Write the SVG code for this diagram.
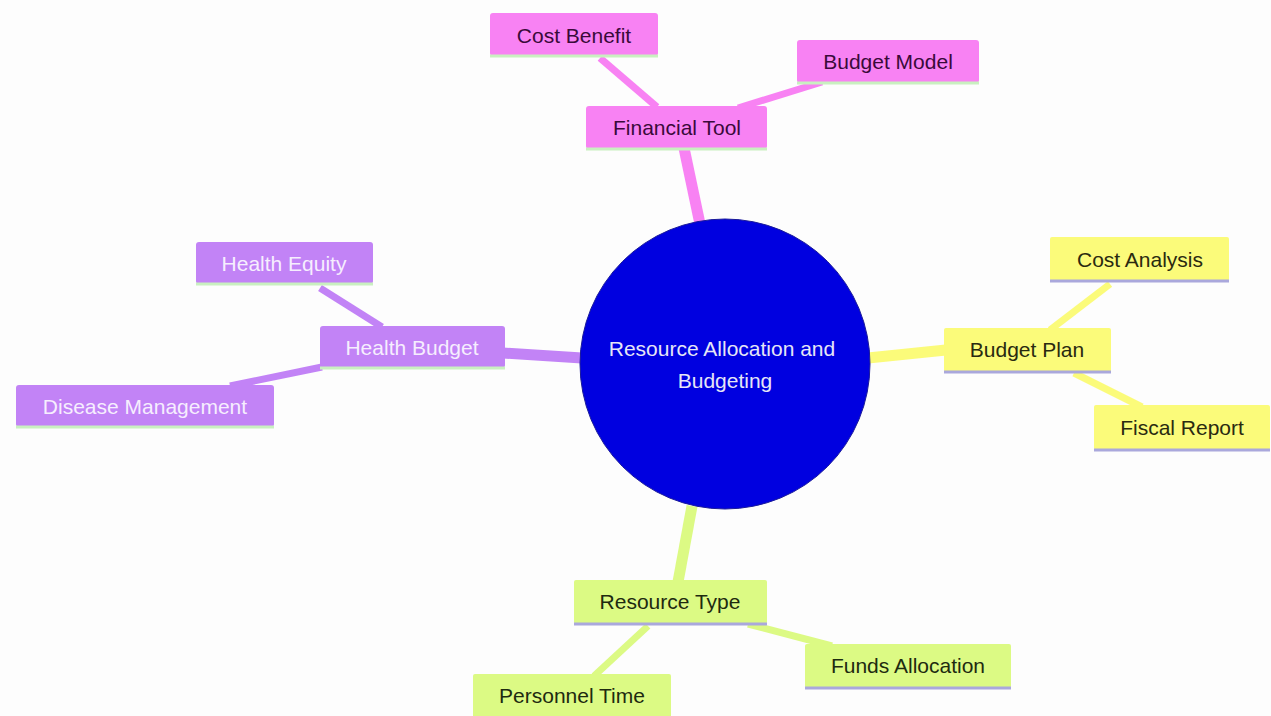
<svg xmlns="http://www.w3.org/2000/svg" width="1271" height="716" viewBox="0 0 1271 716">
<style>
text{font-family:"Liberation Sans",Arial,sans-serif;font-size:21px;text-anchor:middle;dominant-baseline:central}
.pk rect{fill:#f882f3}.pk text{fill:#3a0a3a}
.pu rect{fill:#c283f6}.pu text{fill:#f6eefe}
.ye rect{fill:#fbfb7a}.ye text{fill:#2a2a10}
.gr rect{fill:#dcfa84}.gr text{fill:#1e2a10}
.ug{stroke:#c9f0c0;stroke-width:3}
.ul{stroke:#aaa8dc;stroke-width:3}
#edges line{stroke-linecap:butt}
</style>
<rect width="1271" height="716" fill="#fdfdfd"/>
<g id="edges">
<line x1="684" y1="148" x2="700" y2="224" stroke="#f882f3" stroke-width="11"/>
<line x1="600" y1="58" x2="657" y2="107" stroke="#f882f3" stroke-width="7"/>
<line x1="738" y1="108" x2="822" y2="82" stroke="#f882f3" stroke-width="7"/>
<line x1="503" y1="353" x2="582" y2="358" stroke="#c283f6" stroke-width="11"/>
<line x1="320" y1="288" x2="382" y2="327" stroke="#c283f6" stroke-width="7"/>
<line x1="322" y1="367" x2="230" y2="386" stroke="#c283f6" stroke-width="7"/>
<line x1="868" y1="358" x2="946" y2="350" stroke="#fbfb7a" stroke-width="11"/>
<line x1="1110" y1="284" x2="1050" y2="330" stroke="#fbfb7a" stroke-width="7"/>
<line x1="1074" y1="373" x2="1142" y2="407" stroke="#fbfb7a" stroke-width="7"/>
<line x1="692" y1="506" x2="678" y2="582" stroke="#dcfa84" stroke-width="11"/>
<line x1="648" y1="626" x2="594" y2="676" stroke="#dcfa84" stroke-width="7"/>
<line x1="748" y1="624" x2="832" y2="646" stroke="#dcfa84" stroke-width="7"/>
</g>
<g id="root">
<circle cx="725" cy="364" r="145" fill="#0000e0" stroke="#1a1a9a" stroke-width="1"/>
<text x="722" y="348" fill="#e6e6f6">Resource Allocation and</text>
<text x="725" y="380" fill="#e6e6f6">Budgeting</text>
</g>
<g id="financial-tool" class="pk"><rect x="586" y="106" width="181" height="43" rx="3"/><line class="ug" x1="586" y1="149" x2="767" y2="149"/><text x="677" y="127">Financial Tool</text></g>
<g id="cost-benefit" class="pk"><rect x="490" y="13" width="168" height="43" rx="3"/><line class="ug" x1="490" y1="56" x2="658" y2="56"/><text x="574" y="35">Cost Benefit</text></g>
<g id="budget-model" class="pk"><rect x="797" y="40" width="182" height="43" rx="3"/><line class="ug" x1="797" y1="83" x2="979" y2="83"/><text x="888" y="61">Budget Model</text></g>
<g id="health-budget" class="pu"><rect x="320" y="326" width="185" height="42" rx="3"/><line class="ug" x1="320" y1="368" x2="505" y2="368"/><text x="412" y="347">Health Budget</text></g>
<g id="health-equity" class="pu"><rect x="196" y="242" width="177" height="42" rx="3"/><line class="ug" x1="196" y1="284" x2="373" y2="284"/><text x="284" y="263">Health Equity</text></g>
<g id="disease-management" class="pu"><rect x="16" y="385" width="258" height="42" rx="3"/><line class="ug" x1="16" y1="427" x2="274" y2="427"/><text x="145" y="406">Disease Management</text></g>
<g id="budget-plan" class="ye"><rect x="944" y="328" width="167" height="44" rx="2"/><line class="ul" x1="944" y1="372" x2="1111" y2="372"/><text x="1027" y="349">Budget Plan</text></g>
<g id="cost-analysis" class="ye"><rect x="1050" y="237" width="179" height="44" rx="2"/><line class="ul" x1="1050" y1="281" x2="1229" y2="281"/><text x="1140" y="259">Cost Analysis</text></g>
<g id="fiscal-report" class="ye"><rect x="1094" y="405" width="176" height="45" rx="2"/><line class="ul" x1="1094" y1="450" x2="1270" y2="450"/><text x="1182" y="427">Fiscal Report</text></g>
<g id="resource-type" class="gr"><rect x="574" y="580" width="193" height="44" rx="2"/><line class="ul" x1="574" y1="624" x2="767" y2="624"/><text x="670" y="601">Resource Type</text></g>
<g id="funds-allocation" class="gr"><rect x="805" y="644" width="206" height="44" rx="2"/><line class="ul" x1="805" y1="688" x2="1011" y2="688"/><text x="908" y="665">Funds Allocation</text></g>
<g id="personnel-time" class="gr"><rect x="473" y="674" width="198" height="44" rx="2"/><text x="572" y="695">Personnel Time</text></g>
</svg>
